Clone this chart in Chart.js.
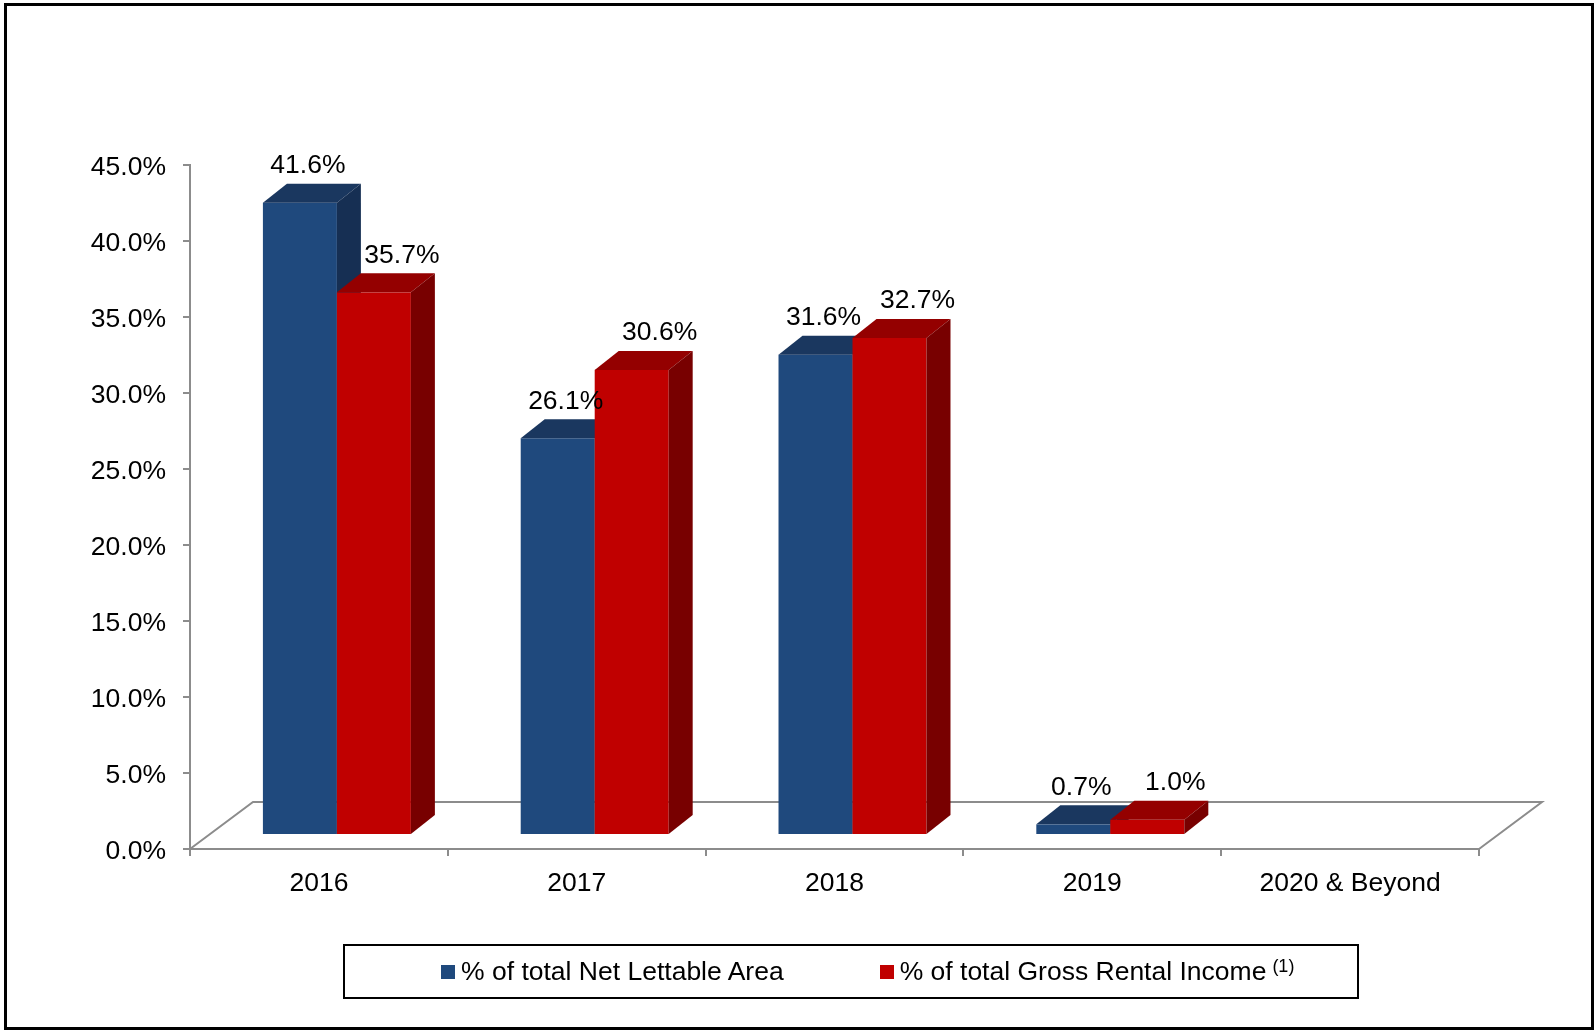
<!DOCTYPE html>
<html>
<head>
<meta charset="utf-8">
<title>Lease expiry profile</title>
<script src="https://cdn.jsdelivr.net/npm/chart.js@4.4.0/dist/chart.umd.min.js"></script>
<style>
  html, body { margin: 0; padding: 0; background: #fff; }
  body {
    width: 1595px; height: 1031px; position: relative; overflow: hidden;
    font-family: "Liberation Sans", Arial, sans-serif;
  }
  #wrap { position: absolute; left: 0; top: 0; width: 1595px; height: 1031px; }
  #frame {
    position: absolute; left: 4px; top: 3px; width: 1590px; height: 1027px;
    border: 3px solid #000; box-sizing: border-box; pointer-events: none;
  }
  #legend {
    position: absolute; left: 343px; top: 944px; width: 1016px; height: 55px;
    border: 2px solid #000; box-sizing: border-box;
    display: flex; align-items: center; padding-left: 96px;
    font-size: 26.5px; color: #000; white-space: nowrap;
  }
  #legend .item { display: flex; align-items: center; }
  #legend .item + .item { margin-left: 96px; }
  #legend .swatch { width: 14px; height: 14px; margin-right: 6px; }
  #legend sup { font-size: 18px; position: relative; top: -5px; margin-left: 6px; }
</style>
</head>
<body>
<div id="wrap"><canvas id="chart"></canvas></div>
<div id="legend"></div>
<div id="frame"></div>

<script>
const categories = ['2016', '2017', '2018', '2019', '2020 & Beyond'];
const netLettableArea = [41.6, 26.1, 31.6, 0.7, null];
const grossRentalIncome = [35.7, 30.6, 32.7, 1.0, null];
const seriesNames = ['% of total Net Lettable Area', '% of total Gross Rental Income'];
const seriesNotes = ['', '(1)'];

const FONT = '"Liberation Sans", Arial, sans-serif';
const TEXT_SIZE = 26.5;
const AXIS_GREY = '#8c8c8c';

// face colours: front, top, side
const shades = [
  { front: '#1f497d', top: '#1a375f', side: '#162f53' },
  { front: '#c00000', top: '#940000', side: '#780000' }
];

// pseudo-3d geometry
const SHIFT = { x: 18, y: -14 };   // bars stand a little behind the front edge
const DEPTH = { x: 24, y: -19 };   // bar depth
const FLOOR = { x: 63, y: -47 };   // floor depth
const LABEL_NUDGE = [8, 28];       // value labels, per series

const bars3d = {
  id: 'bars3d',
  beforeDatasetsDraw(chart) {
    const { ctx, chartArea: a } = chart;
    ctx.save();

    // floor outline
    ctx.strokeStyle = AXIS_GREY;
    ctx.lineWidth = 2;
    ctx.beginPath();
    ctx.moveTo(a.left, a.bottom);
    ctx.lineTo(a.left + FLOOR.x, a.bottom + FLOOR.y);
    ctx.lineTo(a.right + FLOOR.x, a.bottom + FLOOR.y);
    ctx.lineTo(a.right, a.bottom);
    ctx.stroke();

    // boxes, left to right so nearer faces cover the ones behind
    categories.forEach((cat, j) => {
      chart.data.datasets.forEach((ds, i) => {
        if (ds.data[j] == null) return;
        const p = chart.getDatasetMeta(i).data[j].getProps(['x', 'y', 'base', 'width'], true);
        const l = p.x - p.width / 2 + SHIFT.x;
        const r = p.x + p.width / 2 + SHIFT.x;
        const t = p.y + SHIFT.y;
        const b = p.base + SHIFT.y;
        const c = shades[i];

        ctx.fillStyle = c.front;
        ctx.fillRect(l, t, r - l, b - t);

        ctx.fillStyle = c.top;
        ctx.beginPath();
        ctx.moveTo(l, t);
        ctx.lineTo(l + DEPTH.x, t + DEPTH.y);
        ctx.lineTo(r + DEPTH.x, t + DEPTH.y);
        ctx.lineTo(r, t);
        ctx.closePath();
        ctx.fill();

        ctx.fillStyle = c.side;
        ctx.beginPath();
        ctx.moveTo(r, t);
        ctx.lineTo(r + DEPTH.x, t + DEPTH.y);
        ctx.lineTo(r + DEPTH.x, b + DEPTH.y);
        ctx.lineTo(r, b);
        ctx.closePath();
        ctx.fill();
      });
    });

    ctx.restore();
    return false;
  },
  afterDraw(chart) {
    const { ctx } = chart;
    ctx.save();
    ctx.font = TEXT_SIZE + 'px ' + FONT;
    ctx.fillStyle = '#000';
    ctx.textAlign = 'center';
    ctx.textBaseline = 'middle';
    chart.data.datasets.forEach((ds, i) => {
      chart.getDatasetMeta(i).data.forEach((bar, j) => {
        const v = ds.data[j];
        if (v == null) return;
        const p = bar.getProps(['x', 'y'], true);
        ctx.fillText(v.toFixed(1) + '%', p.x + SHIFT.x + LABEL_NUDGE[i], p.y + SHIFT.y + DEPTH.y - 18);
      });
    });
    ctx.restore();
  }
};

const chart = new Chart(document.getElementById('chart'), {
  type: 'bar',
  data: {
    labels: categories,
    datasets: [
      { label: seriesNames[0], data: netLettableArea, backgroundColor: shades[0].front },
      { label: seriesNames[1], data: grossRentalIncome, backgroundColor: shades[1].front }
    ]
  },
  options: {
    responsive: true,
    maintainAspectRatio: false,
    animation: false,
    events: [],
    datasets: { bar: { categoryPercentage: 0.574, barPercentage: 1 } },
    layout: { padding: { left: 10, top: 165, right: 116, bottom: 122 } },
    plugins: { legend: { display: false }, tooltip: { enabled: false } },
    scales: {
      x: {
        grid: { offset: true, drawOnChartArea: false, tickLength: 7, color: AXIS_GREY, lineWidth: 2 },
        border: { display: true, color: AXIS_GREY, width: 2 },
        ticks: { color: '#000', font: { family: FONT, size: TEXT_SIZE }, padding: 12, maxRotation: 0 },
        afterFit(scale) { scale.height = 60; }
      },
      y: {
        min: 0,
        max: 45,
        grid: { drawOnChartArea: false, tickLength: 7, color: AXIS_GREY, lineWidth: 2 },
        border: { display: true, color: AXIS_GREY, width: 2 },
        ticks: {
          stepSize: 5,
          color: '#000',
          font: { family: FONT, size: TEXT_SIZE },
          padding: 17,
          labelOffset: 3,
          callback: v => v.toFixed(1) + '%'
        },
        afterFit(scale) { scale.width = 180; }
      }
    }
  },
  plugins: [bars3d]
});

// legend box under the plot
const legend = document.getElementById('legend');
chart.data.datasets.forEach((ds, i) => {
  const item = document.createElement('div');
  item.className = 'item';
  const sw = document.createElement('span');
  sw.className = 'swatch';
  sw.style.background = ds.backgroundColor;
  item.appendChild(sw);
  item.appendChild(document.createTextNode(ds.label));
  if (seriesNotes[i]) {
    const sup = document.createElement('sup');
    sup.textContent = seriesNotes[i];
    item.appendChild(sup);
  }
  legend.appendChild(item);
});
</script>
</body>
</html>
